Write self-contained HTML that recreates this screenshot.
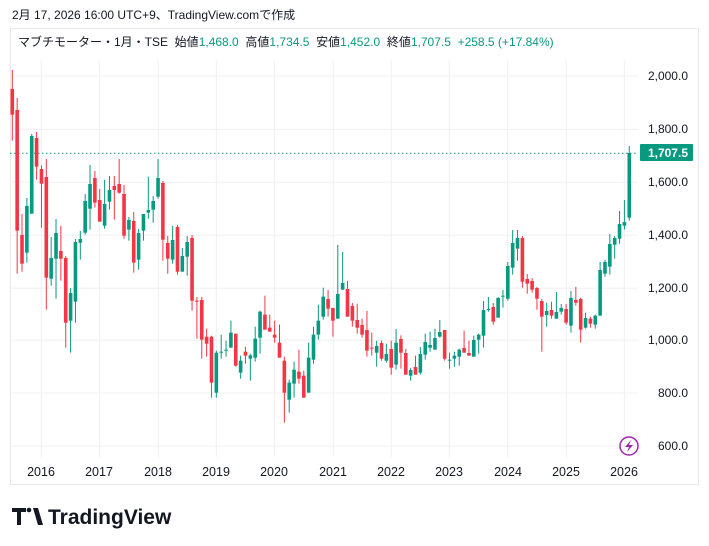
<!DOCTYPE html>
<html><head><meta charset="utf-8"><style>
html,body{margin:0;padding:0;background:#fff;width:709px;height:546px;overflow:hidden}
svg{display:block}
text{font-family:"Liberation Sans","Noto Sans CJK JP",sans-serif;white-space:pre}
</style></head><body>
<svg id="s" width="709" height="546" xmlns="http://www.w3.org/2000/svg" xml:space="preserve">
<text x="12" y="19" font-size="12" fill="#131722">2月 17, 2026 16:00 UTC+9、TradingView.comで作成</text>
<rect x="10.5" y="28.5" width="688" height="456" fill="none" stroke="#e8e8ea"/>
<g id="grid" stroke="#f0f0f2" stroke-width="1"></g>
<text x="18" y="46" font-size="12" fill="#131722">マブチモーター・1月・TSE  始値<tspan fill="#089981">1,468.0</tspan>  高値<tspan fill="#089981">1,734.5</tspan>  安値<tspan fill="#089981">1,452.0</tspan>  終値<tspan fill="#089981">1,707.5</tspan>  <tspan fill="#089981">+258.5 (+17.84%)</tspan></text>
<line x1="10" y1="153.3" x2="638" y2="153.3" stroke="#089981" stroke-dasharray="1.5,2.5"/>
<g id="c"></g>
<g font-size="12" fill="#131722" text-anchor="end">
<text x="688" y="80">2,000.0</text><text x="688" y="133">1,800.0</text><text x="688" y="186">1,600.0</text><text x="688" y="239">1,400.0</text><text x="688" y="292">1,200.0</text><text x="688" y="344">1,000.0</text><text x="688" y="397">800.0</text><text x="688" y="450">600.0</text>
</g>
<rect x="640" y="144" width="53" height="17" fill="#089981" rx="1"/>
<text x="688" y="157" font-size="12" font-weight="bold" fill="#fff" text-anchor="end">1,707.5</text>
<circle cx="629" cy="446" r="9" fill="none" stroke="#9c27b0" stroke-width="1.5"/>
<path d="M631 440 L625 447 L629 447 L627 452 L633 445 L629 445 Z" fill="#9c27b0"/>
<g font-size="12.5" fill="#131722" text-anchor="middle">
<text x="41" y="476">2016</text><text x="99" y="476">2017</text><text x="158" y="476">2018</text><text x="216" y="476">2019</text><text x="274" y="476">2020</text><text x="333" y="476">2021</text><text x="391" y="476">2022</text><text x="449" y="476">2023</text><text x="508" y="476">2024</text><text x="566" y="476">2025</text><text x="624" y="476">2026</text>
</g>
<g fill="#131722">
<path d="M12 508 H26 V512 H21 V525 H17 V512 H12 Z"/>
<circle cx="29" cy="510" r="2.3"/>
<path d="M33 508 H38 L43 525 H38 Z"/>
</g>
<text x="48" y="524" font-size="21" font-weight="bold" fill="#131722">TradingView</text>
</svg>
<script>
var g=document.getElementById('grid'),ns='http://www.w3.org/2000/svg';
[76,129.3,182.3,235.3,288.3,340.3,393,446].forEach(function(y){var l=document.createElementNS(ns,'line');l.setAttribute('x1',10);l.setAttribute('x2',638);l.setAttribute('y1',y);l.setAttribute('y2',y);g.appendChild(l);});
[41.3,99.3,158.3,216.3,274.3,333.3,391.3,449.3,507.7,566.3,624.3].forEach(function(x){var l=document.createElementNS(ns,'line');l.setAttribute('x1',x);l.setAttribute('x2',x);l.setAttribute('y1',60);l.setAttribute('y2',457);g.appendChild(l);});
var A=[[0,30,87,164,242],[0,114,150,512,641],[0,462,525,611,635],[1,414,438,578,608],[1,222,228,461,461],[0,216,234,320,359],[0,316,327,371,503],[0,297,351,653,749],[1,531,594,656,677],[1,477,519,596,716],[0,498,573,596,662],[0,588,594,788,863],[1,684,699,782,878],[1,537,546,725,788],[1,513,537,548,599],[1,402,423,518,524],[1,315,372,446,509],[0,333,354,428,443],[0,387,420,485,485],[1,360,432,497,506],[1,348,390,425,449],[0,348,378,390,479],[0,297,372,398,401],[0,375,402,527,536],[1,471,480,509,542],[0,456,483,608,638],[1,507,519,599,629],[1,462,462,512,542],[1,350,450,458,476],[1,408,423,449,488],[1,297,354,410,416],[0,363,369,539,602],[0,528,549,596,641],[1,498,540,599,611],[0,495,501,635,644],[1,564,588,635,635],[1,528,546,590,647],[0,525,534,722,752],[0,711,722,725,836],[0,711,720,839,896],[0,806,830,851,890],[0,827,830,968,1013],[1,872,878,998,1013],[1,824,875,878,896],[1,842,869,872,890],[1,782,818,863,863],[0,821,821,917,920],[1,887,902,938,956],[0,860,875,887,911],[1,881,886,896,962],[1,800,836,893,905],[1,752,755,833,881],[0,707,764,809,809],[0,764,803,815,815],[0,782,824,833,848],[0,794,848,893,893],[0,890,902,998,1088],[1,959,968,1019,1058],[1,905,929,971,1013],[0,869,935,956,971],[0,932,947,1013,1013],[1,848,893,998,998],[1,800,824,899,911],[1,734,782,824,839],[1,683,710,770,779]];
var B=[[0,480,507,536,560],[0,533,534,572,620],[1,345,492,566,566],[1,366,459,479,479],[0,453,477,560,560],[0,519,528,572,590],[0,521,570,593,611],[0,566,585,614,623],[0,543,600,662,680],[0,608,653,656,677],[1,632,648,668,710],[0,632,639,686,692],[1,641,672,692,698],[0,632,657,713,734],[1,597,638,704,719],[0,616,627,668,716],[0,657,669,734,734],[1,714,720,737,752],[0,677,711,734,734],[1,651,672,728,734],[1,611,636,674,689],[1,605,645,653,665],[1,596,624,659,659],[1,570,606,620,623],[0,600,600,686,692],[1,668,689,692,716],[1,665,677,686,710],[1,656,659,680,707],[0,602,654,668,668],[0,632,669,677,677],[1,617,630,680,680],[1,611,614,629,671],[1,513,540,617,653],[1,501,537,540,545],[0,519,531,575,584],[1,501,504,563,563],[1,480,497,500,533],[1,396,408,506,512],[1,300,339,413,434],[1,300,324,356,392],[0,318,324,455,473],[0,432,447,461,491],[0,444,453,479,488],[0,471,474,506,539],[0,507,513,560,665],[1,518,543,555,590],[0,515,540,557,566],[1,486,546,566,566],[1,522,534,545,554],[0,522,537,578,584],[1,483,504,587,608],[0,471,510,518,527],[0,503,507,599,638],[1,548,564,593,596],[0,560,566,581,593],[1,554,557,584,596],[1,396,420,557,557],[1,389,396,431,440],[1,312,342,410,434],[1,318,324,344,386],[1,243,282,326,341],[1,210,276,287,299],[1,48,69,263,272]];
B.forEach(function(r){A.push([r[0],r[1]+210,r[2]+210,r[3]+210,r[4]+210]);});
var c=document.getElementById('c'),h='';
A.forEach(function(r,i){var x=12.3+i*4.858,col=r[0]?'#089981':'#F23645';var y=function(z){return 60+z/3;};
var bt=y(r[2]),bb=y(r[3]);if(bb-bt<1)bb=bt+1;
h+='<line x1="'+x+'" x2="'+x+'" y1="'+y(r[1])+'" y2="'+y(r[4])+'" stroke="'+col+'" stroke-width="1"/>';
h+='<rect x="'+(x-1.8)+'" y="'+bt+'" width="3.6" height="'+(bb-bt)+'" fill="'+col+'"/>';});
c.innerHTML=h;
</script>
</body></html>
